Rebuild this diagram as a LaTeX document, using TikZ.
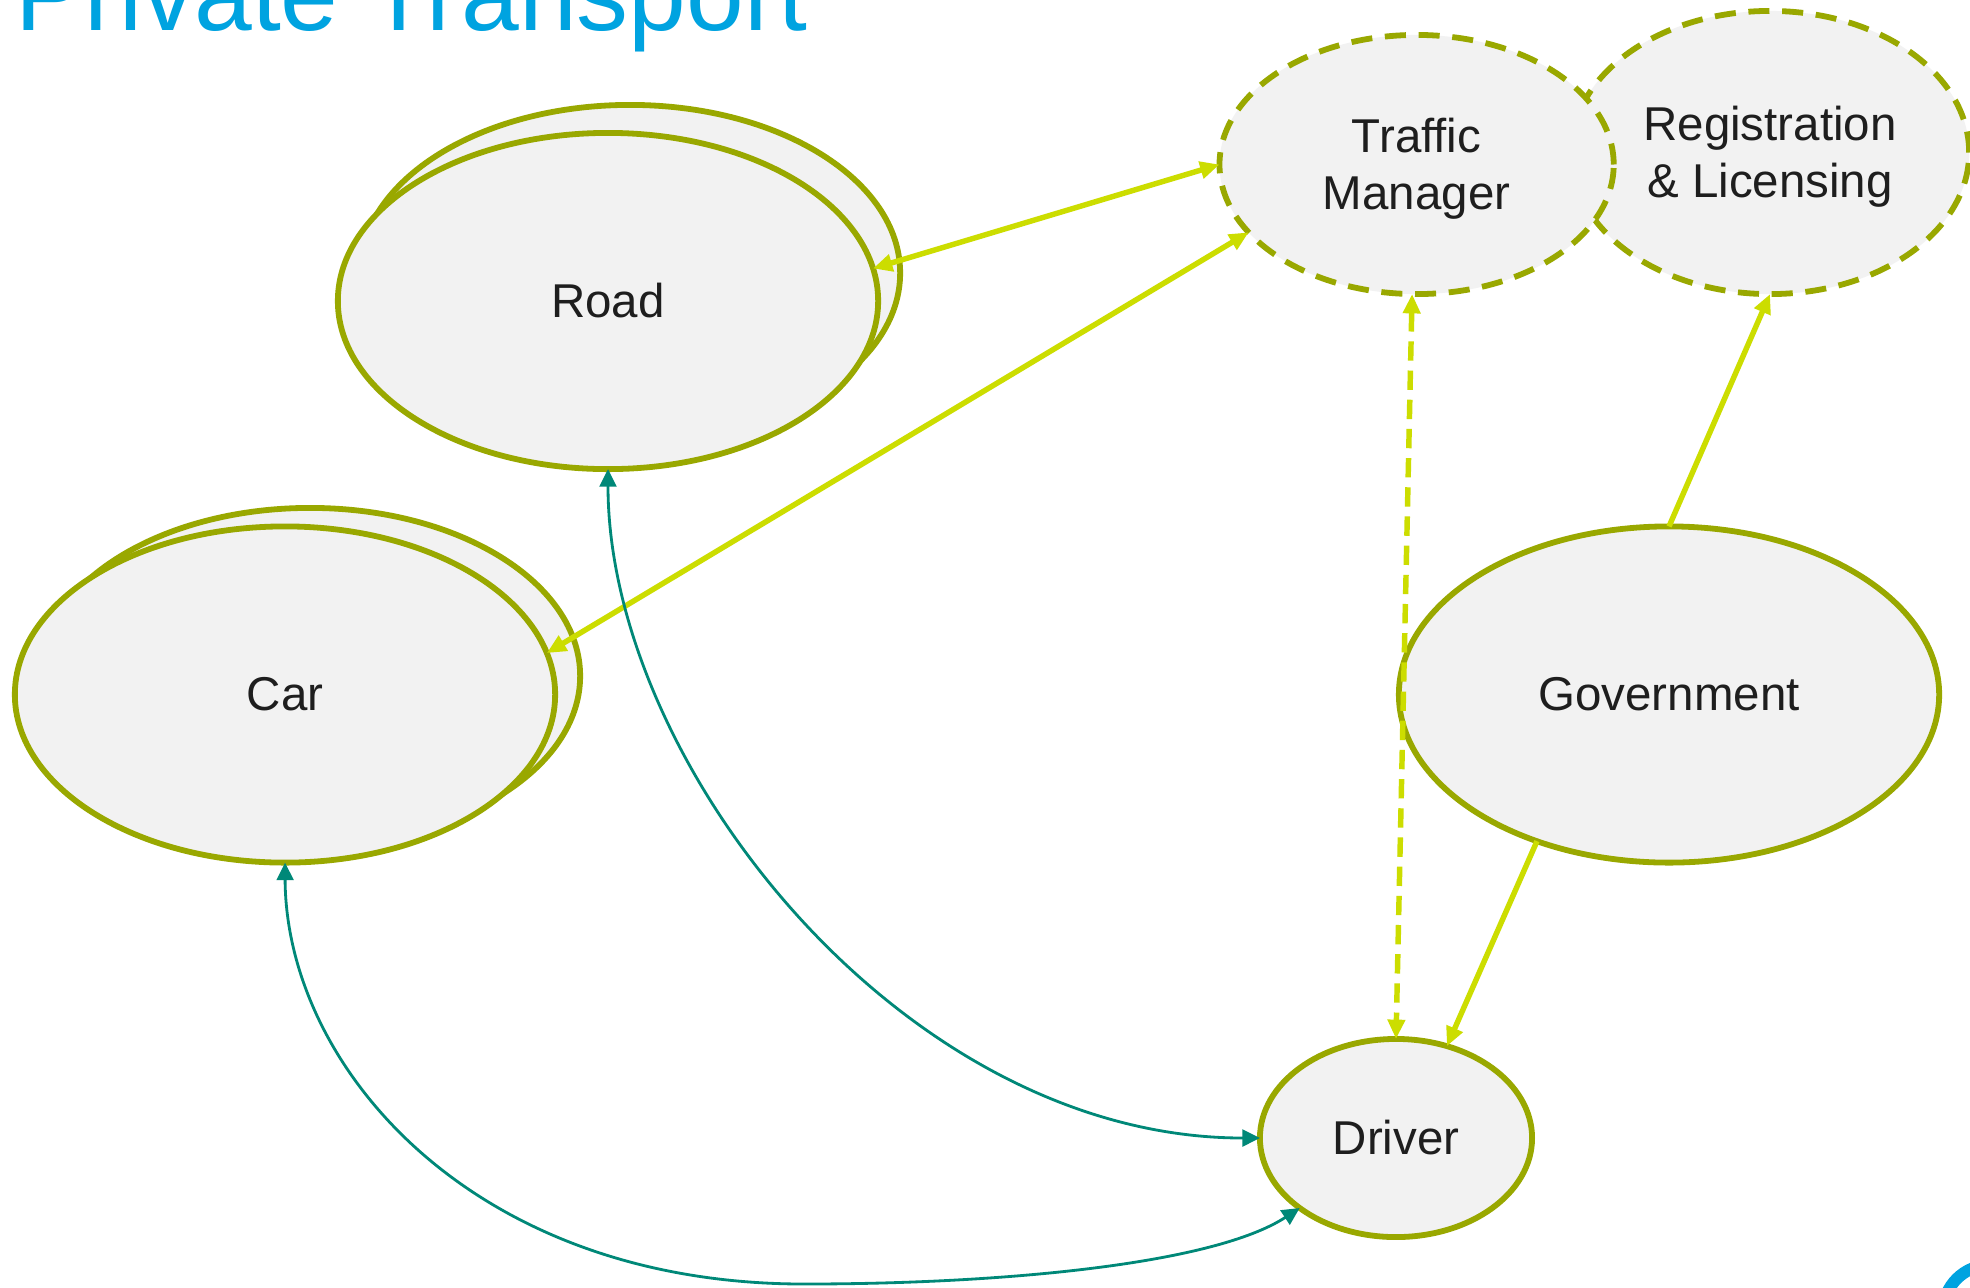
\documentclass[tikz,border=0pt]{standalone}
\usepackage{fontspec}
\setmainfont{Liberation Sans}
\usetikzlibrary{arrows.meta,shapes.geometric}
\definecolor{olv}{RGB}{153,168,0}
\definecolor{limec}{RGB}{204,221,0}
\definecolor{tealc}{RGB}{0,136,120}
\definecolor{fillg}{RGB}{242,242,242}
\definecolor{titleblue}{RGB}{0,163,224}
\definecolor{txt}{RGB}{30,30,30}
\newcommand{\lowertwo}[2]{\raisebox{-1.5pt}[\height][\depth]{\begin{tabular}{@{}c@{}}#1\\#2\end{tabular}}}
\begin{document}
\begin{tikzpicture}[x=0.01cm,y=-0.01cm,
  ent/.style={ellipse, draw=olv, fill=fillg, line width=1.65pt, inner sep=0pt, outer sep=0pt,
    text=txt, font=\fontsize{13.5}{16.2}\selectfont, align=center},
  bignode/.style={minimum width=5.40cm, minimum height=3.36cm},
  dashent/.style={ent, dash pattern=on 6pt off 3.6pt},
  limeconn/.style={draw=limec, line width=1.55pt, >={Triangle[length=5.5pt,width=4.8pt]}},
  tealconn/.style={draw=tealc, line width=0.8pt, >={Triangle[length=5pt,width=4.8pt]}}
]
\useasboundingbox (0,0) rectangle (1970,1287);
\fill[white] (0,0) rectangle (1970,1287);

% title
\node[anchor=base west, text=titleblue, font=\fontsize{29.5}{35}\selectfont, inner sep=0pt] (title) at (15,30) {Private Transport};

% decorative arc bottom right
\begin{scope}
\clip (0,0) rectangle (1970,1287);
\draw[titleblue, line width=3.4pt] (1990,1312) circle[radius=47];
\end{scope}

% nodes
\node[ent, bignode] (roadback) at (630,273) {};
\node[ent, bignode] (road) at (608,301) {Road};
\node[ent, bignode] (carback) at (310,676) {};
\node[ent, bignode] (car) at (285,694.5) {Car};
\node[dashent, minimum width=3.98cm, minimum height=2.83cm] (reg) at (1770,152.5) {\lowertwo{Registration}{\& Licensing}};
\node[dashent, minimum width=3.94cm, minimum height=2.59cm] (tm) at (1416.6,164.5) {\lowertwo{Traffic}{Manager}};
\node[ent, bignode] (gov) at (1669,694.5) {Government};
\node[ent, minimum width=2.72cm, minimum height=1.98cm] (driver) at (1396,1138) {Driver};

% connectors
\draw[limeconn,<->] (road.7.3) -- (tm.180);
\draw[limeconn,<->] (car.9.1) -- (tm.202.4);
\draw[limeconn,<->,dash pattern=on 5.5pt off 2.8pt] (tm.268) -- (driver.north);
\draw[limeconn,->] (gov.north) -- (reg.south);
\draw[limeconn,->] (gov.228) -- (driver.61.7);

\draw[tealconn,<->] (road.south) .. controls (608,764) and (903,1138) .. (driver.west);
\draw[tealconn,<->] (car.south) .. controls (286,1066) and (471,1284) .. (804,1284)
   .. controls (1004,1284) and (1214,1264) .. (driver.216.3);
\end{tikzpicture}
\end{document}
